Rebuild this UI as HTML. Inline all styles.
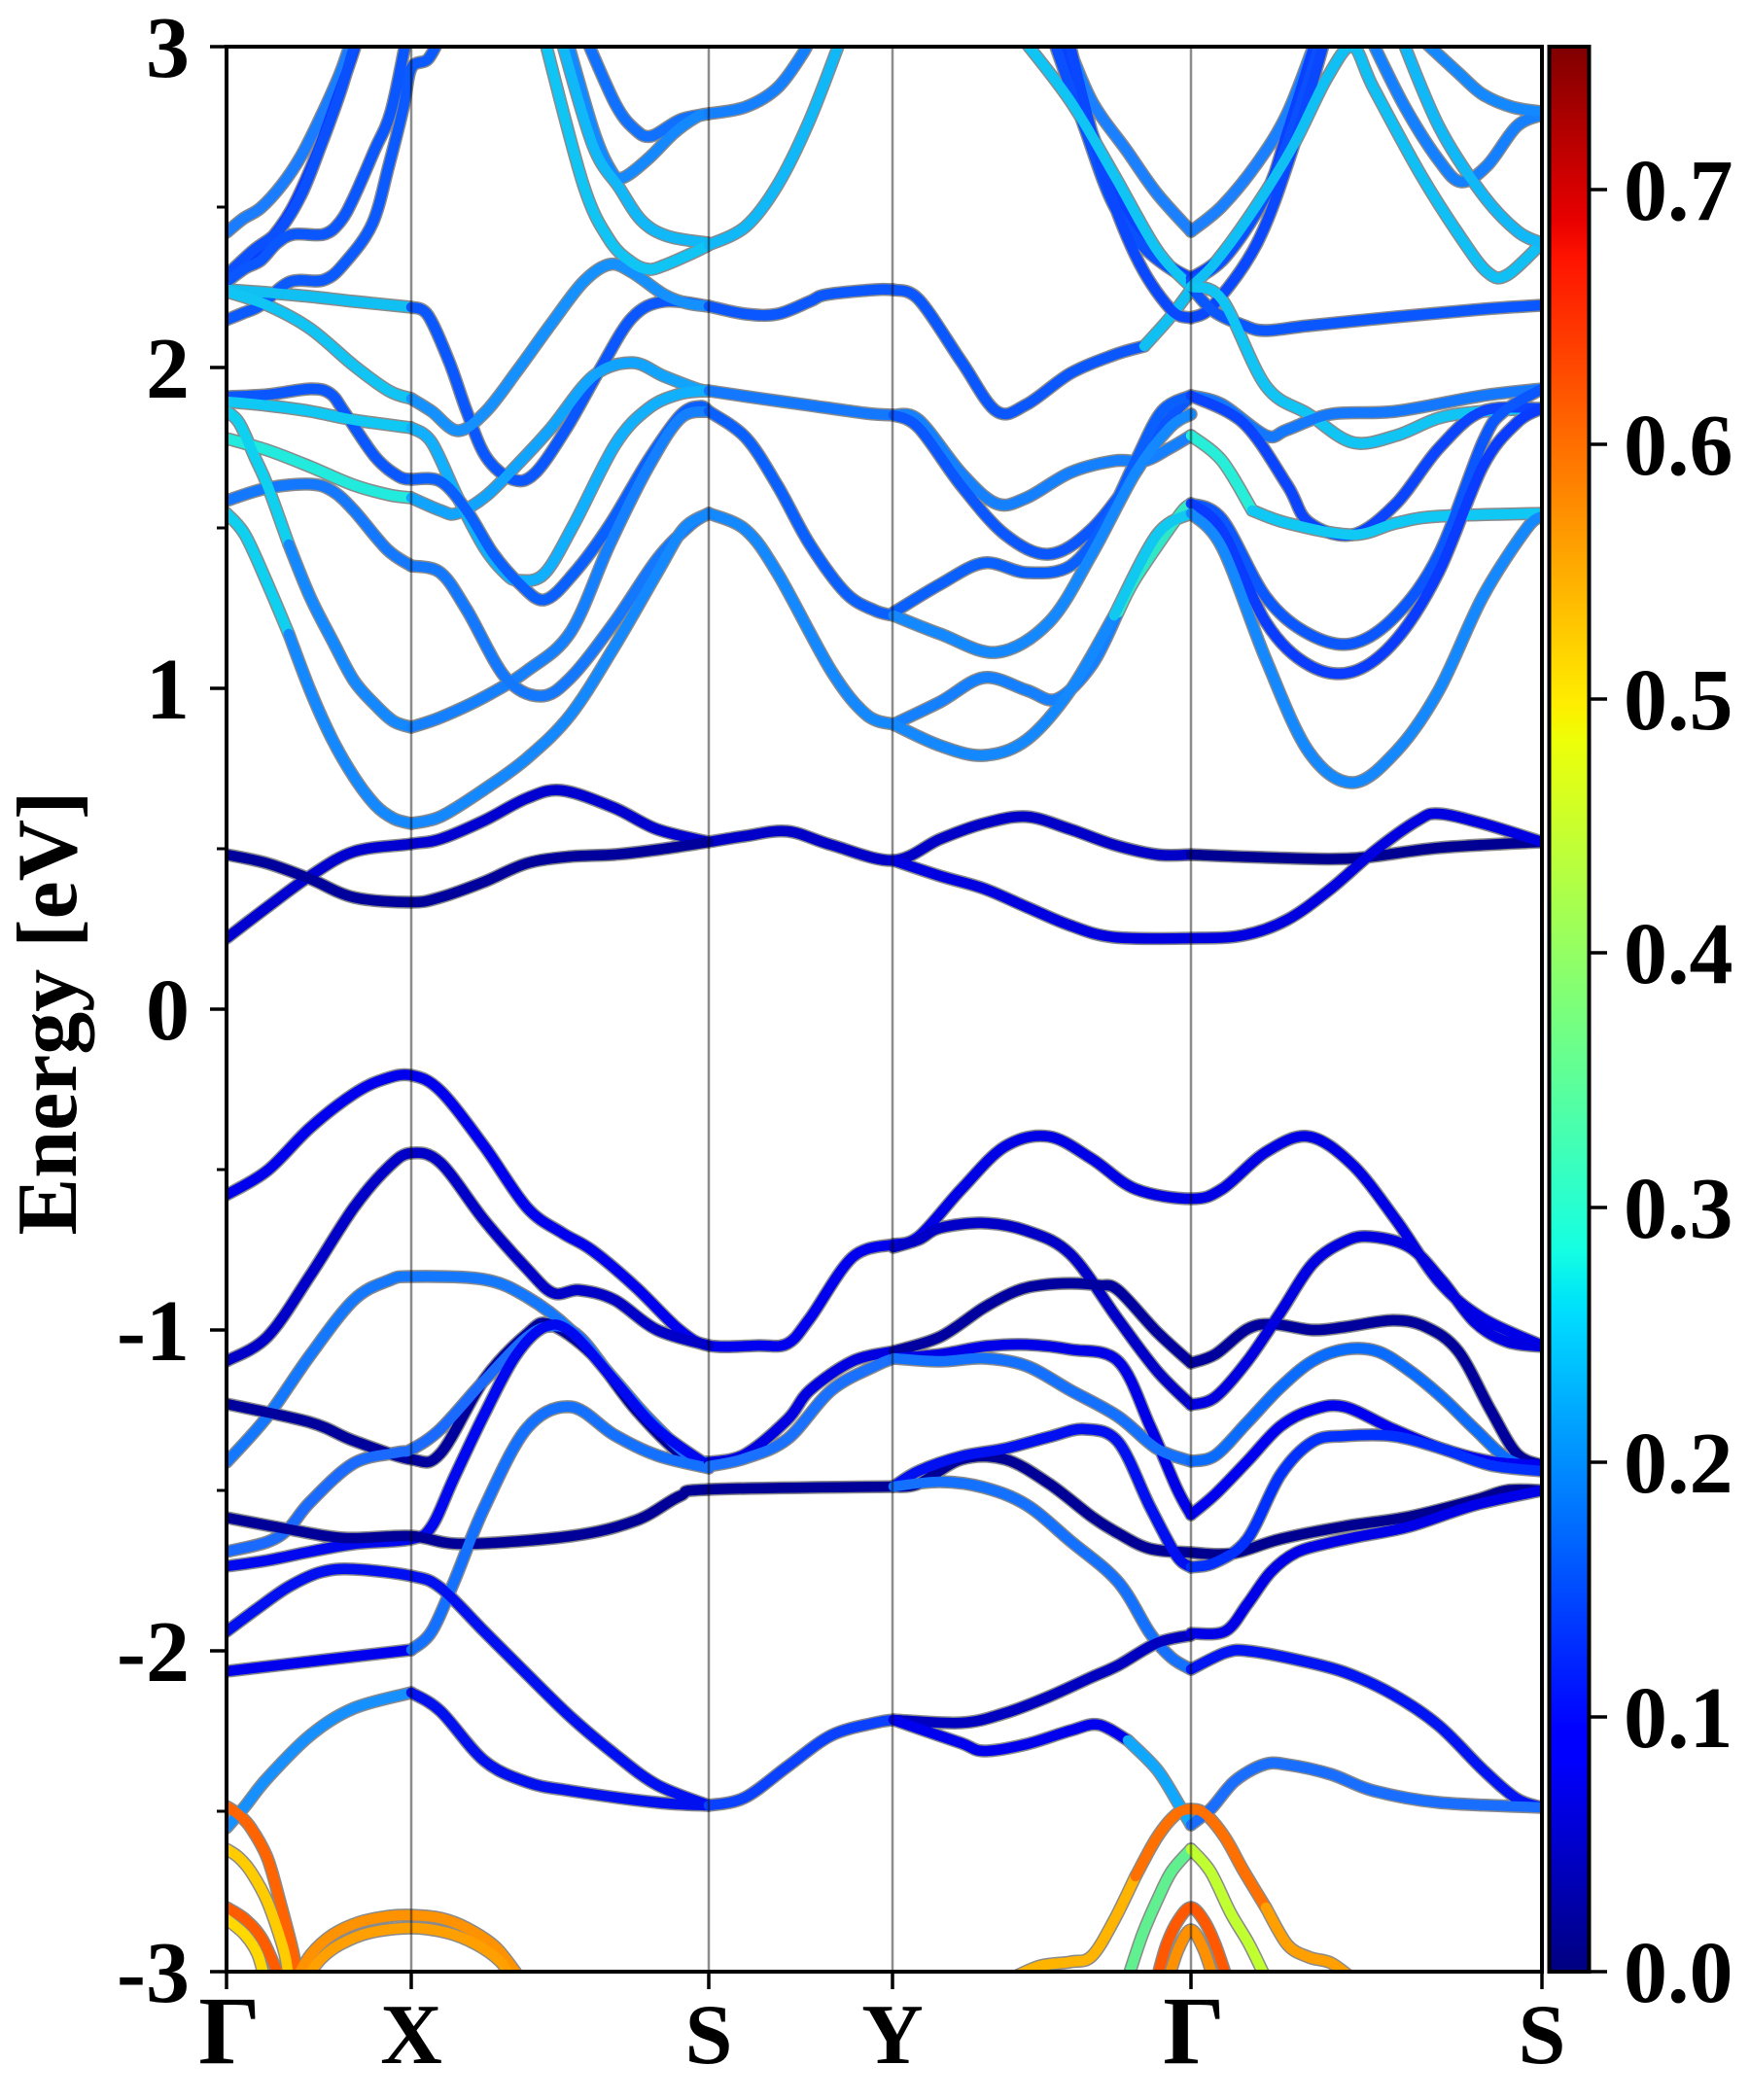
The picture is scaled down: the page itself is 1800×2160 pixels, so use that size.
<!DOCTYPE html>
<html><head><meta charset="utf-8"><style>
html,body{margin:0;padding:0;background:#fff;}
svg{display:block;}
text{font-family:"Liberation Serif","Times New Roman",serif;font-weight:bold;fill:#000;}
</style></head><body>
<svg width="1800" height="2160" viewBox="0 0 1800 2160" xmlns="http://www.w3.org/2000/svg">
<defs>
<clipPath id="pc"><rect x="233" y="48" width="1353" height="1980"/></clipPath>
<linearGradient id="jet" x1="0" y1="1" x2="0" y2="0">
<stop offset="0" stop-color="#000080"/><stop offset="0.11" stop-color="#0000ff"/><stop offset="0.125" stop-color="#0000ff"/>
<stop offset="0.34" stop-color="#00dbff"/><stop offset="0.35" stop-color="#00e6f7"/><stop offset="0.375" stop-color="#15ffe2"/>
<stop offset="0.5" stop-color="#7bff7b"/><stop offset="0.64" stop-color="#eeff08"/><stop offset="0.65" stop-color="#f7f500"/>
<stop offset="0.66" stop-color="#ffec00"/><stop offset="0.89" stop-color="#ff1300"/><stop offset="0.91" stop-color="#e80000"/>
<stop offset="1" stop-color="#800000"/>
</linearGradient>
<g id="bands" fill="none" stroke-linejoin="round" stroke-linecap="round">
<!-- valence -->
<polyline id="v1a" points="233,1229 275,1204 319,1160 364,1125 395,1110 423,1106 453,1122 498,1179 542,1242 578,1268 609,1286 654,1324 699,1368 729,1384 780,1384 810,1382 833,1356 877,1293 919,1280"/>
<polyline id="v1b" points="919,1280 945,1272 989,1223 1034,1179 1079,1169 1123,1192 1168,1223 1225,1233 1257,1223 1302,1185 1346,1169 1391,1198 1436,1255 1480,1318 1525,1356 1586,1384"/>
<polyline id="v2" points="233,1400 275,1375 319,1312 364,1242 400,1200 423,1186 453,1196 498,1255 542,1305 569,1330 596,1327 632,1337 676,1368 729,1384"/>
<polyline id="v3" points="233,1504 275,1457 319,1394 364,1337 400,1317 423,1313 498,1316 542,1334 587,1368 632,1419 676,1469 711,1500 729,1504"/>
<polyline id="v4" points="233,1444 319,1463 364,1482 423,1501 453,1495 498,1419 542,1372 565,1362 609,1393 654,1450 699,1495 729,1510"/>
<polyline id="v5" points="233,1596 275,1586 297,1572 319,1545 364,1505 409,1494 423,1491 453,1470 498,1420 542,1375 569,1364 596,1375 632,1420 676,1468 711,1500 729,1504"/>
<polyline id="v6" points="233,1611 275,1605 319,1596 364,1588 423,1583 444,1570 467,1520 498,1455 530,1395 560,1365 587,1370 632,1420 676,1470 729,1508"/>
<polyline id="v7" points="233,1561 297,1573 355,1582 423,1580 476,1588 587,1580 654,1564 699,1539 729,1532 919,1529"/>
<polyline id="v8a" points="233,1719 319,1709 423,1697"/>
<polyline id="v8b" points="423,1697 444,1678 467,1627 498,1551 542,1469 587,1447 632,1476 676,1497 729,1510"/>
<polyline id="v9" points="233,1678 264,1655 297,1632 330,1617 364,1614 423,1621 453,1633 498,1678 542,1722 587,1766 632,1804 676,1836 729,1857"/>
<polyline id="v10a" points="233,1880 252,1858 275,1829 319,1785 364,1757 423,1741"/>
<polyline id="v10b" points="423,1741 453,1760 498,1811 542,1833 587,1842 676,1854 729,1857"/>
<polyline id="sy1" points="729,1504 766,1496 810,1460 833,1430 877,1400 919,1390"/>
<polyline id="sy2" points="729,1508 766,1500 810,1480 855,1430 900,1405 919,1397"/>
<polyline id="sy4" points="729,1857 766,1849 810,1817 855,1785 900,1772 919,1769"/>
<polyline id="L2" points="919,1283 945,1275 967,1263 1012,1258 1056,1266 1101,1290 1150,1357 1190,1410 1225,1445"/>
<polyline id="L3" points="919,1390 967,1375 1012,1345 1045,1328 1070,1322 1101,1320 1130,1322 1150,1327 1190,1370 1225,1402"/>
<polyline id="L4" points="919,1397 967,1393 1012,1385 1056,1383 1101,1388 1150,1400 1183,1467 1210,1530 1225,1558"/>
<polyline id="L5" points="919,1397 967,1400 1012,1397 1056,1405 1101,1430 1150,1457 1190,1490 1225,1503"/>
<polyline id="L6" points="919,1529 945,1526 989,1501 1034,1501 1079,1526 1123,1560 1150,1577 1183,1593 1225,1597"/>
<polyline id="L7" points="919,1529 945,1513 989,1498 1034,1490 1079,1478 1115,1470 1150,1483 1183,1550 1210,1600 1225,1612"/>
<polyline id="L7b" points="919,1529 967,1524 1012,1530 1056,1548 1101,1585 1150,1627 1183,1680 1205,1705 1225,1717"/>
<polyline id="L8" points="919,1769 989,1772 1034,1762 1079,1745 1123,1725 1150,1713 1190,1690 1225,1682"/>
<polyline id="L9a" points="919,1769 945,1778 989,1793 1012,1801 1056,1794 1101,1780 1130,1774 1160,1790"/>
<polyline id="L9b" points="1160,1790 1190,1820 1212,1855 1225,1877"/>
<polyline id="R1" points="1225,1402 1250,1393 1283,1367 1310,1362 1350,1368 1383,1365 1433,1358 1467,1365 1500,1390 1533,1450 1560,1495 1586,1507"/>
<polyline id="R2" points="1225,1445 1250,1437 1283,1400 1317,1350 1350,1300 1383,1277 1410,1272 1450,1283 1483,1317 1517,1360 1550,1380 1586,1385"/>
<polyline id="R3" points="1225,1503 1250,1497 1283,1463 1317,1427 1350,1400 1383,1388 1417,1390 1450,1410 1483,1437 1517,1470 1550,1500 1586,1513"/>
<polyline id="R4" points="1225,1558 1250,1537 1283,1503 1317,1467 1350,1450 1383,1447 1433,1470 1483,1490 1533,1503 1586,1507"/>
<polyline id="R5" points="1225,1597 1267,1598 1317,1583 1383,1570 1450,1560 1517,1543 1550,1533 1586,1533"/>
<polyline id="R6" points="1225,1612 1250,1607 1283,1583 1317,1517 1350,1483 1383,1477 1433,1477 1483,1490 1533,1507 1586,1513"/>
<polyline id="R7" points="1225,1680 1260,1678 1283,1650 1307,1617 1333,1597 1367,1587 1400,1580 1450,1570 1517,1548 1586,1533"/>
<polyline id="R8" points="1225,1717 1260,1700 1283,1698 1333,1707 1383,1720 1433,1743 1480,1775 1525,1820 1560,1850 1586,1859"/>
<polyline id="R9" points="1225,1877 1246,1860 1270,1832 1300,1815 1324,1815 1369,1825 1413,1842 1480,1854 1586,1859"/>
<!-- deep bands -->
<polyline id="o1" points="233,1858 245,1866 258,1880 275,1911 288,1956 301,2006 306,2035"/>
<polyline id="o2" points="233,1902 245,1910 258,1925 275,1956 292,2006 297,2035"/>
<polyline id="o3" points="233,1962 252,1974 270,1995 288,2035"/>
<polyline id="o4" points="233,1974 252,1990 265,2010 272,2035"/>
<polyline id="o5" points="305,2035 320,2010 342,1990 370,1977 400,1971 423,1970 453,1973 480,1983 510,2003 535,2035"/>
<polyline id="o6" points="315,2035 330,2015 350,2000 380,1988 423,1983 460,1988 490,2000 515,2018 525,2035"/>
<polyline id="o7a" points="1040,2035 1070,2022 1101,2018 1123,2012 1146,1975 1168,1930"/>
<polyline id="o7b" points="1168,1930 1190,1890 1210,1866 1225,1861 1240,1866 1260,1890 1279,1924 1302,1962"/>
<polyline id="o7c" points="1302,1962 1324,2000 1346,2013 1369,2019 1391,2035"/>
<polyline id="o8" points="1160,2035 1175,1990 1190,1955 1205,1925 1225,1902"/>
<polyline id="o9" points="1225,1902 1245,1925 1266,1968 1285,2000 1302,2035"/>
<polyline id="o10" points="1190,2035 1200,2000 1212,1975 1225,1962 1238,1975 1250,2000 1262,2035"/>
<polyline id="o11" points="1202,2035 1212,2005 1225,1985 1238,2005 1248,2035"/>
<!-- low conduction -->
<polyline id="A1a" points="233,965 275,933 319,901 364,876 423,868 453,863 498,844 542,821 578,813 632,831 676,853 729,866"/>
<polyline id="A1b" points="729,866 766,860 810,855 855,869 919,885 967,863 1012,847 1056,840 1101,853 1146,869 1190,879 1225,879"/>
<polyline id="A1c" points="1225,879 1302,882 1391,883 1480,872 1586,866"/>
<polyline id="A2a" points="233,879 275,888 319,904 364,923 423,928 453,923 498,907 542,888 587,881 632,879 676,874 729,866"/>
<polyline id="A2b" points="919,885 967,901 1012,914 1056,933 1101,952 1146,964 1225,965 1279,962 1324,946 1369,914 1413,876 1458,844 1480,837 1525,847 1586,866"/>
<!-- conduction G-X -->
<polyline id="cg1" points="233,239 250,225 268,214 290,190 310,160 330,120 350,75 362,40"/>
<polyline id="cg2" points="233,286 252,272 275,250 300,215 325,160 345,105 358,70 368,40"/>
<polyline id="cg2b" points="233,283 260,258 287,237 310,200 330,150 350,95 362,55 366,40"/>
<polyline id="cg3" points="233,290 252,276 268,268 285,250 302,241 333,241 350,228 364,203 385,155 402,115 418,40"/>
<polyline id="cg4" points="233,329 250,322 268,314 298,290 333,288 355,270 383,230 400,170 415,110 423,70 440,61 452,40"/>
<polyline id="cg5" points="233,298 275,301 319,305 364,310 423,316"/>
<polyline id="cg6" points="233,300 275,314 319,338 364,376 400,402 423,410"/>
<polyline id="cg7" points="233,408 275,406 319,400 340,405 355,425 386,470 410,490 423,493"/>
<polyline id="cg8" points="233,413 275,417 319,423 364,432 423,440"/>
<polyline id="cg9" points="233,451 275,463 319,480 364,499 400,509 423,512"/>
<polyline id="cg10" points="233,515 275,502 319,498 342,505 364,525 398,565 423,582"/>
<polyline id="cg11a" points="233,423 246,435 262,470 275,499 297,560"/>
<polyline id="cg11b" points="297,560 319,614 342,659 364,700 386,725 405,742 423,748"/>
<polyline id="cg12a" points="233,528 252,550 275,600 297,652"/>
<polyline id="cg12b" points="297,652 319,710 342,761 364,799 386,828 405,842 423,847"/>
<!-- X-S -->
<polyline id="xsa" points="423,316 440,324 462,372 480,423 500,470 527,493 550,487 583,440 617,380 650,327 683,310 729,315"/>
<polyline id="xsb" points="423,410 444,423 471,443 500,423 533,380 567,333 600,290 627,272 650,280 683,303 707,312 729,315"/>
<polyline id="xse" points="423,512 453,525 470,528 500,510 533,477 567,440 610,387 650,373 683,387 717,400 729,402"/>
<polyline id="xsc" points="423,440 444,455 471,512 498,563 520,590 534,597 560,590 590,540 633,457 667,420 700,405 729,402"/>
<polyline id="xsd" points="423,493 453,495 480,525 507,569 534,600 560,617 590,590 627,540 667,473 700,427 720,418 729,423"/>
<polyline id="xsC3" points="423,748 453,738 498,717 542,690 587,650 627,560 667,480 700,430 729,423"/>
<polyline id="xsC2" points="423,582 453,589 480,627 520,697 556,716 587,697 632,640 676,575 710,540 729,528"/>
<polyline id="xsC1" points="423,847 453,840 498,812 542,780 587,735 632,665 676,589 703,544 729,528"/>
<polyline id="t1" points="603,40 633,107 653,133 670,140 700,123 729,117"/>
<polyline id="t2" points="583,40 610,133 627,173 640,183 667,163 693,137 717,120 729,117"/>
<polyline id="t3" points="577,40 610,150 637,193 660,227 687,243 729,250"/>
<polyline id="t4" points="560,40 600,190 627,247 650,270 667,277 683,273 713,260 729,252"/>
<!-- S-Y -->
<polyline id="syt1" points="729,117 767,110 800,90 827,53 832,40"/>
<polyline id="syt2" points="729,252 767,233 800,190 833,123 865,40"/>
<polyline id="sym1" points="729,315 767,323 800,323 833,310 850,303 900,298 919,298"/>
<polyline id="sym2" points="729,402 783,410 833,417 890,425 919,427"/>
<polyline id="sy2c" points="729,423 767,450 800,500 833,560 870,610 900,628 919,633"/>
<polyline id="syC1" points="729,528 767,545 800,590 855,690 891,735 919,745"/>
<!-- Y-G -->
<polyline id="yg1a" points="919,298 945,308 989,372 1025,423 1056,416 1101,384 1146,365 1177,356"/>
<polyline id="yg1b" points="1177,356 1203,327 1225,298"/>
<polyline id="yg2" points="919,427 945,432 989,487 1025,518 1056,512 1101,486 1146,474 1177,474 1203,461 1225,448"/>
<polyline id="yg3" points="919,427 945,440 989,500 1034,550 1079,570 1123,544 1168,486 1195,440 1225,407"/>
<polyline id="yg4" points="919,630 967,601 1012,579 1056,589 1101,582 1137,537 1168,474 1195,423 1225,407"/>
<polyline id="yg5" points="919,633 967,652 1025,671 1079,640 1123,570 1168,486 1203,440 1225,426"/>
<polyline id="yg6a" points="919,745 967,722 1012,697 1056,710 1087,719 1123,684 1150,630"/>
<polyline id="yg6b" points="1150,630 1168,595 1212,531 1225,518"/>
<polyline id="yg7a" points="919,745 967,767 1012,777 1056,761 1101,710 1146,633"/>
<polyline id="yg7b" points="1146,633 1190,550 1225,528"/>
<polyline id="gl1" points="1096,40 1123,104 1159,155 1190,199 1225,238"/>
<polyline id="gl2" points="1089,40 1123,136 1150,206 1177,250 1205,275 1225,286"/>
<polyline id="gl2b" points="1083,40 1115,130 1145,210 1180,258 1225,290"/>
<polyline id="gl3" points="1099,40 1132,168 1168,263 1204,318 1225,327"/>
<polyline id="gl4" points="1052,40 1101,104 1146,180 1190,257 1225,295"/>
<!-- G-S -->
<polyline id="gr1" points="1225,238 1257,212 1293,168 1324,117 1354,40"/>
<polyline id="gr2" points="1225,286 1257,263 1302,199 1324,136 1354,40"/>
<polyline id="gr2b" points="1225,290 1260,265 1300,205 1330,130 1359,40"/>
<polyline id="gr3" points="1225,327 1248,314 1293,250 1329,155 1363,40"/>
<polyline id="grc" points="1225,295 1250,270 1290,215 1330,150 1365,80 1391,48 1413,91 1461,179 1503,245 1530,280 1550,283 1586,250"/>
<polyline id="r2" points="1410,40 1445,110 1480,165 1503,187 1530,170 1560,130 1586,118"/>
<polyline id="r3" points="1462,40 1500,75 1525,97 1555,110 1586,115"/>
<polyline id="r4" points="1442,40 1480,130 1525,200 1561,238 1586,250"/>
<polyline id="gm1" points="1225,295 1248,320 1280,335 1302,340 1346,335 1436,326 1525,318 1586,314"/>
<polyline id="gmc" points="1225,295 1257,308 1302,397 1346,426 1391,455 1436,448 1480,430 1525,423 1586,420"/>
<polyline id="gm2" points="1225,407 1257,416 1302,448 1324,442 1369,426 1436,423 1525,407 1586,400"/>
<polyline id="gm3" points="1225,407 1279,435 1324,499 1346,537 1391,550 1436,518 1480,461 1525,423 1586,420"/>
<polyline id="gm4a" points="1225,448 1257,474 1288,525"/>
<polyline id="gm4b" points="1288,525 1324,538 1391,550 1436,538 1480,531 1586,528"/>
<polyline id="gm5" points="1225,518 1257,534 1302,614 1346,652 1391,662 1436,633 1480,570 1525,455 1547,423 1586,400"/>
<polyline id="gm6" points="1225,518 1257,545 1302,640 1346,684 1391,691 1436,658 1480,588 1525,480 1560,435 1586,420"/>
<polyline id="gm7" points="1225,528 1257,563 1302,678 1346,773 1391,805 1436,773 1480,710 1525,614 1570,544 1586,531"/>
</g>
</defs>

<rect x="0" y="0" width="1800" height="2160" fill="#fff"/>

<g clip-path="url(#pc)">
<use href="#bands" stroke="#8a8a8a" stroke-width="13.5"/>
<g fill="none" stroke-width="10.5" stroke-linejoin="round" stroke-linecap="round">
<use href="#v1a" stroke="#0000ee"/><use href="#v1b" stroke="#0000e6"/>
<use href="#v2" stroke="#0000c8"/><use href="#v3" stroke="#1478ff"/>
<use href="#v4" stroke="#00009c"/><use href="#v5" stroke="#1a6aff"/>
<use href="#v6" stroke="#0008f0"/><use href="#v7" stroke="#000098"/>
<use href="#v8a" stroke="#0000ee"/><use href="#v8b" stroke="#1470ff"/>
<use href="#v9" stroke="#0010f0"/><use href="#v10a" stroke="#1690ff"/><use href="#v10b" stroke="#0010ee"/>
<use href="#sy1" stroke="#0000e0"/><use href="#sy2" stroke="#1a70ff"/><use href="#sy4" stroke="#0a40ff"/>
<use href="#L2" stroke="#0000c8"/><use href="#L3" stroke="#0000a0"/><use href="#L4" stroke="#0000e8"/>
<use href="#L5" stroke="#1470ff"/><use href="#L6" stroke="#000096"/><use href="#L7" stroke="#0010f0"/>
<use href="#L7b" stroke="#1470ff"/><use href="#L8" stroke="#0000c0"/>
<use href="#L9a" stroke="#0000ee"/><use href="#L9b" stroke="#10a8ff"/>
<use href="#R1" stroke="#00009c"/><use href="#R2" stroke="#0000e0"/><use href="#R3" stroke="#0a6cff"/>
<use href="#R4" stroke="#0000f0"/><use href="#R5" stroke="#000090"/><use href="#R6" stroke="#0030ff"/>
<use href="#R7" stroke="#0000e8"/><use href="#R8" stroke="#0014f4"/><use href="#R9" stroke="#1a6eff"/>
<use href="#o1" stroke="#ff6400"/><use href="#o2" stroke="#ffcc00"/><use href="#o3" stroke="#ff5c00"/><use href="#o4" stroke="#ffd800"/>
<use href="#o5" stroke="#ff9200"/><use href="#o6" stroke="#ffa000"/>
<use href="#o7a" stroke="#ffb400"/><use href="#o7b" stroke="#ff7000"/><use href="#o7c" stroke="#ffa000"/>
<use href="#o8" stroke="#60f090"/><use href="#o9" stroke="#c0ff30"/><use href="#o10" stroke="#ff5800"/><use href="#o11" stroke="#ff9000"/>
<use href="#A1a" stroke="#0000d0"/><use href="#A1b" stroke="#0000c8"/><use href="#A1c" stroke="#000092"/>
<use href="#A2a" stroke="#00009c"/><use href="#A2b" stroke="#0000e0"/>
<use href="#cg1" stroke="#1a7cff"/><use href="#cg2" stroke="#0a3cff"/><use href="#cg2b" stroke="#0a50ff"/>
<use href="#cg3" stroke="#0a56ff"/><use href="#cg4" stroke="#0a5aff"/>
<use href="#cg5" stroke="#10c0f2"/><use href="#cg6" stroke="#10c4f4"/><use href="#cg7" stroke="#0a56ff"/>
<use href="#cg8" stroke="#10c8f4"/><use href="#cg9" stroke="#22eadc"/><use href="#cg10" stroke="#1478ff"/>
<use href="#cg11a" stroke="#10d0f0"/><use href="#cg11b" stroke="#1488ff"/>
<use href="#cg12a" stroke="#10d0f0"/><use href="#cg12b" stroke="#1488ff"/>
<use href="#xsa" stroke="#0a56ff"/><use href="#xsb" stroke="#1490ff"/><use href="#xse" stroke="#10a4ff"/>
<use href="#xsc" stroke="#10b0ff"/><use href="#xsd" stroke="#0a60ff"/><use href="#xsC3" stroke="#1480ff"/>
<use href="#xsC2" stroke="#1478ff"/><use href="#xsC1" stroke="#1488ff"/>
<use href="#t1" stroke="#1070ff"/><use href="#t2" stroke="#1488ff"/><use href="#t3" stroke="#10b8f8"/><use href="#t4" stroke="#10c4f4"/>
<use href="#syt1" stroke="#1480ff"/><use href="#syt2" stroke="#10b8f8"/>
<use href="#sym1" stroke="#0a56ff"/><use href="#sym2" stroke="#1478ff"/><use href="#sy2c" stroke="#0a60ff"/><use href="#syC1" stroke="#1488ff"/>
<use href="#yg1a" stroke="#0a56ff"/><use href="#yg1b" stroke="#10c0f2"/>
<use href="#yg2" stroke="#1480ff"/><use href="#yg3" stroke="#0a56ff"/><use href="#yg4" stroke="#0a60ff"/><use href="#yg5" stroke="#1488ff"/>
<use href="#yg6a" stroke="#1480ff"/><use href="#yg6b" stroke="#30e8c8"/>
<use href="#yg7a" stroke="#1488ff"/><use href="#yg7b" stroke="#10c8f0"/>
<use href="#gl1" stroke="#1a80ff"/><use href="#gl2" stroke="#0a40ff"/><use href="#gl2b" stroke="#0a50ff"/>
<use href="#gl3" stroke="#0a48ff"/><use href="#gl4" stroke="#10c4f4"/>
<use href="#gr1" stroke="#1a80ff"/><use href="#gr2" stroke="#0a40ff"/><use href="#gr2b" stroke="#0a50ff"/><use href="#gr3" stroke="#0a48ff"/>
<use href="#grc" stroke="#10c0f4"/><use href="#r2" stroke="#1480ff"/><use href="#r3" stroke="#1488ff"/><use href="#r4" stroke="#10b8f8"/>
<use href="#gm1" stroke="#0a56ff"/><use href="#gmc" stroke="#10c4f4"/><use href="#gm2" stroke="#1478ff"/>
<use href="#gm3" stroke="#0a44ff"/><use href="#gm4a" stroke="#26eed8"/><use href="#gm4b" stroke="#10c8f4"/>
<use href="#gm5" stroke="#0a56ff"/><use href="#gm6" stroke="#0a3cff"/><use href="#gm7" stroke="#1488ff"/>
</g>
<g stroke="#000" stroke-opacity="0.45" stroke-width="2.5">
<line x1="423" y1="48" x2="423" y2="2028"/>
<line x1="729" y1="48" x2="729" y2="2028"/>
<line x1="918" y1="48" x2="918" y2="2028"/>
<line x1="1225" y1="48" x2="1225" y2="2028"/>
</g>
</g>

<rect x="233" y="48" width="1353" height="1980" fill="none" stroke="#000" stroke-width="4"/>
<g stroke="#000" stroke-width="3.5">
<line x1="216" y1="48" x2="233" y2="48"/><line x1="216" y1="378" x2="233" y2="378"/>
<line x1="216" y1="708" x2="233" y2="708"/><line x1="216" y1="1038" x2="233" y2="1038"/>
<line x1="216" y1="1368" x2="233" y2="1368"/><line x1="216" y1="1698" x2="233" y2="1698"/>
<line x1="216" y1="2028" x2="233" y2="2028"/>
</g>
<g stroke="#000" stroke-width="3">
<line x1="223" y1="213" x2="233" y2="213"/><line x1="223" y1="543" x2="233" y2="543"/>
<line x1="223" y1="873" x2="233" y2="873"/><line x1="223" y1="1203" x2="233" y2="1203"/>
<line x1="223" y1="1533" x2="233" y2="1533"/><line x1="223" y1="1863" x2="233" y2="1863"/>
</g>
<g stroke="#000" stroke-width="3.5">
<line x1="233" y1="2028" x2="233" y2="2046"/><line x1="423" y1="2028" x2="423" y2="2046"/>
<line x1="729" y1="2028" x2="729" y2="2046"/><line x1="918" y1="2028" x2="918" y2="2046"/>
<line x1="1225" y1="2028" x2="1225" y2="2046"/><line x1="1586" y1="2028" x2="1586" y2="2046"/>
</g>
<g font-size="90" text-anchor="end">
<text x="195" y="79">3</text><text x="195" y="409">2</text><text x="195" y="739">1</text>
<text x="195" y="1069">0</text><text x="195" y="1399">-1</text><text x="195" y="1729">-2</text>
<text x="195" y="2059">-3</text>
</g>
<g text-anchor="middle" font-size="88">
<text x="236" y="2122" font-size="100">Γ</text>
<text x="423" y="2122">X</text>
<text x="729" y="2122">S</text>
<text x="918" y="2122">Y</text>
<text x="1228" y="2122" font-size="100">Γ</text>
<text x="1586" y="2122">S</text>
</g>
<text transform="translate(78,1042) rotate(-90)" text-anchor="middle" font-size="88">Energy [eV]</text>

<rect x="1593.5" y="48" width="41" height="1980" fill="url(#jet)" stroke="#000" stroke-width="4"/>
<g stroke="#000" stroke-width="3.5">
<line x1="1635" y1="2028" x2="1653" y2="2028"/><line x1="1635" y1="1766" x2="1653" y2="1766"/>
<line x1="1635" y1="1504" x2="1653" y2="1504"/><line x1="1635" y1="1242" x2="1653" y2="1242"/>
<line x1="1635" y1="980" x2="1653" y2="980"/><line x1="1635" y1="719" x2="1653" y2="719"/>
<line x1="1635" y1="457" x2="1653" y2="457"/><line x1="1635" y1="195" x2="1653" y2="195"/>
</g>
<g font-size="90">
<text x="1670" y="2059">0.0</text><text x="1670" y="1797">0.1</text><text x="1670" y="1535">0.2</text>
<text x="1670" y="1273">0.3</text><text x="1670" y="1011">0.4</text><text x="1670" y="750">0.5</text>
<text x="1670" y="488">0.6</text><text x="1670" y="226">0.7</text>
</g>
</svg>
<script>
(function(){
  try{
    var pls=document.querySelectorAll('#bands polyline');
    for(var k=0;k<pls.length;k++){
      var pl=pls[k];
      var nums=pl.getAttribute('points').trim().split(/[\s,]+/).map(Number);
      var p=[];
      for(var i=0;i+1<nums.length;i+=2)p.push([nums[i],nums[i+1]]);
      if(p.length<2)continue;
      var d='M'+p[0][0]+','+p[0][1];
      for(var j=0;j<p.length-1;j++){
        var a=p[j-1]||p[j],b=p[j],c=p[j+1],e=p[j+2]||p[j+1];
        var c1x=b[0]+(c[0]-a[0])/6,c1y=b[1]+(c[1]-a[1])/6;
        var c2x=c[0]-(e[0]-b[0])/6,c2y=c[1]-(e[1]-b[1])/6;
        d+=' C'+c1x.toFixed(1)+','+c1y.toFixed(1)+' '+c2x.toFixed(1)+','+c2y.toFixed(1)+' '+c[0]+','+c[1];
      }
      var path=document.createElementNS('http://www.w3.org/2000/svg','path');
      path.setAttribute('d',d);
      var id=pl.getAttribute('id');
      pl.removeAttribute('id');
      path.setAttribute('id',id);
      pl.parentNode.replaceChild(path,pl);
    }
  }catch(err){}
})();
</script>
</body></html>
